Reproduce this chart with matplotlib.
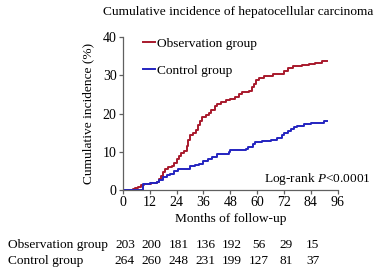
import matplotlib
matplotlib.use("Agg")
import matplotlib.pyplot as plt

plt.rcParams['font.family'] = ['Liberation Serif', 'DejaVu Serif']
plt.rcParams['mathtext.fontset'] = 'custom'
plt.rcParams['mathtext.it'] = 'Liberation Serif:italic'
plt.rcParams['mathtext.rm'] = 'Liberation Serif'

# step curves (months, cumulative incidence %)
obs_months = [0, 4.6, 5.5, 6.5, 8, 9.5, 11, 12.5, 15, 16, 17, 18, 19, 20, 22, 23, 24, 25,
              26, 27.5, 28.5, 29, 29.8, 31.5, 32.5, 33.5, 34.5, 35.5, 37, 38.5, 39.5, 41,
              42, 44, 46, 48, 50, 52, 53, 56.5, 57.5, 58.5, 59.5, 61, 63, 67, 71, 72, 74,
              76, 80, 83, 86, 89, 91]
obs_inc = [0, 0.3, 0.6, 0.9, 1.2, 1.5, 1.7, 1.9, 2.2, 2.8, 3.6, 4.6, 5.5, 6.0, 6.2, 7.0,
           8.0, 9.0, 9.8, 10.3, 11.5, 13.0, 14.4, 14.8, 15.8, 17.0, 18.0, 19.0, 19.6,
           20.2, 21.0, 22.0, 22.5, 23.0, 23.5, 23.8, 24.4, 25.0, 25.7, 25.9, 26.8, 27.8,
           28.8, 29.4, 29.8, 30.2, 30.4, 31.2, 31.8, 32.3, 32.6, 33.0, 33.3, 33.6, 33.8]

ctl_months = [0, 9, 12, 15, 16, 18, 19.5, 21, 23, 24.5, 30, 32, 34, 36, 38, 40, 42, 47.5,
              48, 55, 56, 58, 59, 62, 66, 69, 71, 72, 74, 75, 76.5, 78, 81, 84, 88, 90, 91]
ctl_inc = [0, 1.5, 1.8, 2.0, 2.5, 3.3, 3.8, 4.3, 5.0, 5.6, 6.3, 6.6, 6.9, 7.5, 8.0, 8.6,
           9.4, 9.9, 10.5, 10.8, 11.3, 12.1, 12.5, 12.9, 13.2, 13.5, 14.3, 15.0, 15.3,
           15.9, 16.4, 16.8, 17.2, 17.4, 17.6, 18.0, 18.1]

# number at risk
risk_months = [0, 12, 24, 36, 48, 60, 72, 84]
obs_risk = [203, 200, 181, 136, 192, 56, 29, 15]
ctl_risk = [264, 260, 248, 231, 199, 127, 81, 37]

red = '#a8192c'
blue = '#2424c0'
fs = 9.6

fig = plt.figure(figsize=(3.79, 2.75), dpi=100)
ax = fig.add_axes([0.3245, 0.309, 0.5665, 0.5565])

ax.step(obs_months, obs_inc, where='post', color=red, lw=1.4, label='Observation group')
ax.step(ctl_months, ctl_inc, where='post', color=blue, lw=1.4, label='Control group')

ax.set_xlim(0, 96)
ax.set_ylim(0, 40)
ax.set_xticks(range(0, 97, 12))
ax.set_yticks([0, 10, 20, 30, 40])
for s in ['top', 'right']:
    ax.spines[s].set_visible(False)
for s in ['left', 'bottom']:
    ax.spines[s].set_color('#606060')
    ax.spines[s].set_linewidth(0.9)
ax.tick_params(length=3, width=0.9, color='#606060', labelsize=fs + 0.4, pad=1.5)

ax.set_xlabel('Months of follow-up', fontsize=fs, labelpad=3)
ax.set_ylabel('Cumulative incidence (%)', fontsize=fs, labelpad=6)

ax.legend(loc='upper left', bbox_to_anchor=(0.07, 1.03), frameon=False, fontsize=fs,
          handlelength=0.9, handletextpad=0.15, labelspacing=1.1, borderaxespad=0)

fig.text(0.628, 0.955, 'Cumulative incidence of hepatocellular carcinoma',
         ha='center', va='center', fontsize=fs)
fig.text(0.979, 0.349, r'Log-rank $\mathit{P}$<0.0001', ha='right', va='center', fontsize=fs)

fig.text(0.02, 0.109, 'Observation group', ha='left', va='center', fontsize=fs)
fig.text(0.02, 0.051, 'Control group', ha='left', va='center', fontsize=fs)
for m, a, b in zip(risk_months, obs_risk, ctl_risk):
    x = ax.transData.transform((m, 0))[0] / fig.bbox.width
    fig.text(x + 0.005, 0.109, str(a), ha='center', va='center', fontsize=fs)
    fig.text(x + 0.005, 0.051, str(b), ha='center', va='center', fontsize=fs)

fig.savefig('out.png', dpi=100)
